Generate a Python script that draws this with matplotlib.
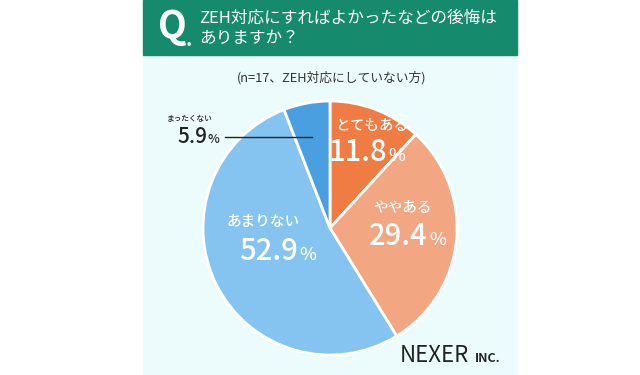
import matplotlib.pyplot as plt
from matplotlib.patches import Rectangle

plt.rcParams['font.family'] = ['Noto Sans CJK JP', 'DejaVu Sans']

# data
labels = ['とてもある', 'ややある', 'あまりない', 'まったくない']
values = [11.8, 29.4, 52.9, 5.9]
colors = ['#F07B43', '#F3A682', '#85C4F1', '#4A9FE1']
title_lines = ['ZEH対応にすればよかったなどの後悔は', 'ありますか？']
subtitle = '(n=17、ZEH対応にしていない方)'

W, H = 640, 375
fig = plt.figure(figsize=(6.4, 3.75), dpi=100, facecolor='white')

def fx(x):
    return x / W

def fy(y):
    return 1 - y / H

# panel background and header band
fig.patches.append(Rectangle((fx(143), 0), fx(517) - fx(143), 1,
                             transform=fig.transFigure, color='#ECFCFC', zorder=-2))
fig.patches.append(Rectangle((fx(143), fy(55)), fx(517) - fx(143), 55 / H,
                             transform=fig.transFigure, color='#168A6C', zorder=-1))

fig.text(fx(158), fy(27), 'Q', color='white', fontsize=27, fontweight='bold',
         ha='left', va='center')
fig.text(fx(186), fy(40), '.', color='white', fontsize=14, fontweight='bold',
         ha='left', va='center')
fig.text(fx(199), fy(18), title_lines[0], color='white', fontsize=12, ha='left', va='center')
fig.text(fx(199), fy(38), title_lines[1], color='white', fontsize=12, ha='left', va='center')
fig.text(fx(332), fy(78), subtitle, color='#333333', fontsize=9.2, ha='center', va='center')

# pie
cx, cy, r = 330, 228, 127
ax = fig.add_axes([fx(cx - r), fy(cy + r), 2 * r / W, 2 * r / H], zorder=1)
ax.pie(values, colors=colors, startangle=90, counterclock=False,
       wedgeprops=dict(edgecolor='white', linewidth=2))
ax.set_xlim(-1, 1)
ax.set_ylim(-1, 1)
ax.set_aspect('auto')
ax.axis('off')

def d(px, py):
    return (px - cx) / r, -(py - cy) / r

def pct_label(name, val, nx, ny, num_end, base, color, nsize, psize, lsize):
    x, y = d(nx, ny)
    ax.text(x, y, name, color=color, fontsize=lsize, fontweight='medium',
            ha='center', va='center')
    x, y = d(num_end, base)
    ax.text(x, y, f'{val}', color=color, fontsize=nsize, fontweight='medium',
            ha='right', va='baseline')
    ax.text(x + 1 / r, y, '%', color=color, fontsize=psize, fontweight='medium',
            ha='left', va='baseline')

pct_label(labels[0], values[0], 372, 126, 387, 161, 'white', 21, 13, 10.5)
pct_label(labels[1], values[1], 402, 208, 428, 245, 'white', 21, 13, 10.5)
pct_label(labels[2], values[2], 263, 222, 298, 260, 'white', 21, 13, 10.5)
pct_label(labels[3], values[3], 189, 119, 207, 143, '#222222', 15, 9, 5.5)

x0, y0 = d(225, 137)
x1, _ = d(312, 137)
ax.plot([x0, x1], [y0, y0], color='#222222', lw=1, clip_on=False)

fig.text(fx(400), fy(356), 'NEXER', color='#222222', fontsize=16, ha='left', va='center')
fig.text(fx(475), fy(358), 'INC.', color='#222222', fontsize=9, fontweight='bold',
         ha='left', va='center')

fig.savefig('out.png', dpi=100, facecolor=fig.get_facecolor())
